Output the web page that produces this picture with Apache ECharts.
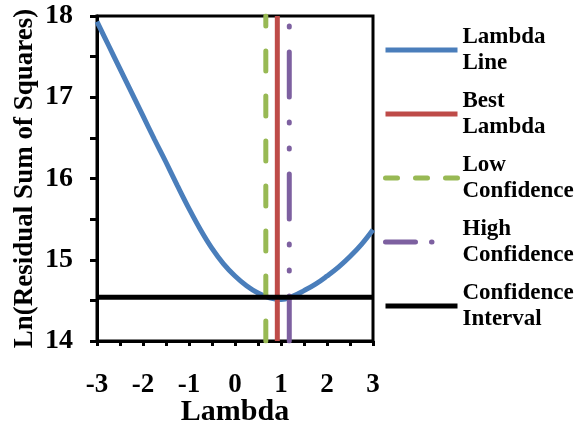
<!DOCTYPE html>
<html>
<head>
<meta charset="utf-8">
<script src="https://cdn.jsdelivr.net/npm/echarts@6/dist/echarts.min.js"></script>
<style>
  html, body { margin: 0; padding: 0; background: #fff; }
  #chart { width: 576px; height: 428px; }
</style>
</head>
<body>
<div id="chart"></div>
<script>
// Box-Cox profile: ln(RSS) against lambda
const lambdaValues = [-3, -2.75, -2.5, -2.25, -2, -1.75, -1.5, -1.25, -1, -0.75, -0.5, -0.25,
                      0, 0.25, 0.5, 0.75, 1, 1.25, 1.5, 1.75, 2, 2.25, 2.5, 2.75, 3];
const lnRss = [17.93, 17.64, 17.35, 17.06, 16.77, 16.48, 16.20, 15.91, 15.63, 15.37, 15.14, 14.95,
               14.80, 14.68, 14.59, 14.53, 14.51, 14.55, 14.62, 14.70, 14.80, 14.91, 15.04, 15.19, 15.37];
const bestLambda = 0.92;
const lowLambda = 0.67;
const highLambda = 1.18;
const confidenceLevel = 14.54;
const xTicks = [-3, 3];
const yTicks = [14, 18];
const seriesNames = ['Lambda Line', 'Best Lambda', 'Low Confidence', 'High Confidence', 'Confidence Interval'];
const legendLabels = ['Lambda\nLine', 'Best\nLambda', 'Low\nConfidence', 'High\nConfidence', 'Confidence\nInterval'];

const FONT = "'Liberation Serif', 'Times New Roman', serif";
const colors = { blue: '#4a7ebb', red: '#be4b48', green: '#98b954', purple: '#7d60a0', black: '#000000' };

const curve = lambdaValues.map((x, i) => [x, lnRss[i]]);
const vLine = (x) => [[x, yTicks[0]], [x, yTicks[1]]];

const chart = echarts.init(document.getElementById('chart'), null, { renderer: 'canvas' });

const labelMap = {};
seriesNames.forEach((n, i) => { labelMap[n] = legendLabels[i]; });

// legend entries: line only, no marker
const legendItem = (name, color, type, cap) => ({
  name,
  itemStyle: { opacity: 0 },
  lineStyle: { width: 5, color, type, cap }
});

chart.setOption({
  animation: false,
  backgroundColor: '#ffffff',
  grid: {
    left: 97, right: 203, top: 16, bottom: 87,
    outerBoundsMode: 'none',
    show: true, borderColor: '#000', borderWidth: 3, backgroundColor: 'transparent'
  },
  legend: {
    orient: 'vertical',
    left: 383,
    top: 11,
    padding: 0,
    itemGap: -14,
    itemWidth: 72,
    itemHeight: 14,
    selectedMode: false,
    formatter: (name) => labelMap[name],
    textStyle: {
      fontFamily: FONT, fontWeight: 'bold', fontSize: 23, color: '#000',
      lineHeight: 26, padding: [26, 0, 0, 0]
    },
    data: [
      legendItem(seriesNames[0], colors.blue, 'solid', 'butt'),
      legendItem(seriesNames[1], colors.red, 'solid', 'butt'),
      legendItem(seriesNames[2], colors.green, [12, 18], 'round'),
      legendItem(seriesNames[3], colors.purple, [30, 16, 0.5, 40], 'round'),
      legendItem(seriesNames[4], colors.black, 'solid', 'butt')
    ]
  },
  xAxis: {
    type: 'value',
    min: xTicks[0], max: xTicks[1], interval: 1,
    name: 'Lambda',
    nameLocation: 'middle',
    nameGap: 56,
    nameMoveOverlap: false,
    nameTextStyle: { fontFamily: FONT, fontWeight: 'bold', fontSize: 30, color: '#000' },
    axisLine: { show: true, onZero: false, lineStyle: { color: '#000', width: 3 } },
    axisTick: { show: true, inside: false, length: 5, lineStyle: { color: '#000', width: 3 } },
    minorTick: { show: true, splitNumber: 2, length: 5, lineStyle: { color: '#000', width: 3 } },
    splitLine: { show: false },
    axisLabel: { margin: 31, fontFamily: FONT, fontWeight: 'bold', fontSize: 27, color: '#000' }
  },
  yAxis: {
    type: 'value',
    min: yTicks[0], max: yTicks[1], interval: 1,
    name: 'Ln(Residual Sum of Squares)',
    nameLocation: 'middle',
    nameGap: 58,
    nameMoveOverlap: false,
    nameTextStyle: { fontFamily: FONT, fontWeight: 'bold', fontSize: 27, color: '#000' },
    axisLine: { show: true, onZero: false, lineStyle: { color: '#000', width: 3 } },
    axisTick: { show: true, inside: false, length: 7, lineStyle: { color: '#000', width: 3 } },
    minorTick: { show: true, splitNumber: 2, length: 7, lineStyle: { color: '#000', width: 3 } },
    splitLine: { show: false },
    axisLabel: { margin: 24, fontFamily: FONT, fontWeight: 'bold', fontSize: 28, color: '#000' }
  },
  series: [
    {
      name: seriesNames[0], type: 'line', data: curve, smooth: 0.4,
      symbol: 'none', showSymbol: false, color: colors.blue,
      lineStyle: { color: colors.blue, width: 5 }, z: 2
    },
    {
      name: seriesNames[1], type: 'line', data: vLine(bestLambda),
      symbol: 'none', showSymbol: false, color: colors.red,
      lineStyle: { color: colors.red, width: 5 }, z: 3
    },
    {
      name: seriesNames[2], type: 'line', data: vLine(lowLambda),
      symbol: 'none', showSymbol: false, color: colors.green,
      lineStyle: { color: colors.green, width: 5, type: [20, 25], cap: 'round' }, z: 3
    },
    {
      name: seriesNames[3], type: 'line', data: vLine(highLambda),
      symbol: 'none', showSymbol: false, color: colors.purple,
      lineStyle: { color: colors.purple, width: 5, type: [45, 25, 1, 25, 1, 25], cap: 'round' }, z: 3
    },
    {
      name: seriesNames[4], type: 'line', data: [[xTicks[0], confidenceLevel], [xTicks[1], confidenceLevel]],
      symbol: 'none', showSymbol: false, color: colors.black,
      lineStyle: { color: colors.black, width: 5 }, z: 4
    }
  ]
});
</script>
</body>
</html>
